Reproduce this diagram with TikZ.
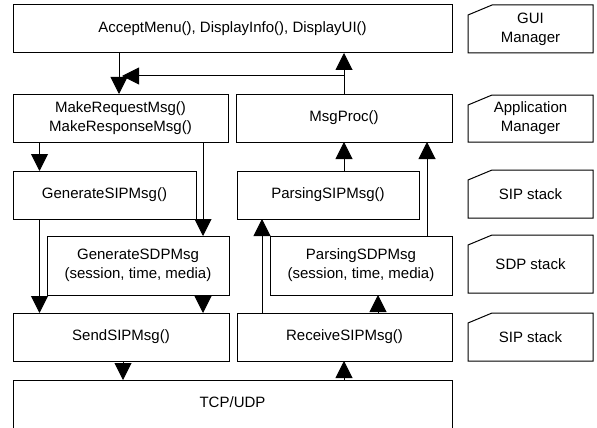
\documentclass[tikz,border=0pt]{standalone}
\usepackage{fontspec}
\setmainfont{Liberation Sans}
\usepackage{tikz}
\usetikzlibrary{arrows.meta}
\usetikzlibrary{calc}

\begin{document}
\begin{tikzpicture}[x=1pt,y=-1pt,
  box/.style={draw,line width=1pt,inner sep=0pt,outer sep=0pt,align=center,font=\fontsize{15}{19}\selectfont},
  tag/.style={inner sep=0pt,outer sep=0pt,align=center,minimum width=125pt,font=\fontsize{15}{19}\selectfont},
  arr/.style={line width=1pt,-{Triangle[width=17pt,length=17pt]}}]
\useasboundingbox (0,0) rectangle (597,428);
% function blocks
\node[box,minimum width=439pt,minimum height=48pt] (acc) at (232.5,29) {AcceptMenu(), DisplayInfo(), DisplayUI()};
\node[box,minimum width=215pt,minimum height=48pt] (mkreq) at (120.5,118) {MakeRequestMsg()\\MakeResponseMsg()};
\node[box,minimum width=216pt,minimum height=48pt] (msgproc) at (344,118) {MsgProc()};
\node[box,minimum width=183pt,minimum height=48pt] (gensip) at (104.5,195) {GenerateSIPMsg()};
\node[box,minimum width=182pt,minimum height=48pt] (parsip) at (328,195) {ParsingSIPMsg()};
\node[box,minimum width=182pt,minimum height=59pt] (gensdp) at (138,265.5) {GenerateSDPMsg\\(session, time, media)};
\node[box,minimum width=182pt,minimum height=59pt] (parsdp) at (361,265.5) {ParsingSDPMsg\\(session, time, media)};
\node[box,minimum width=216pt,minimum height=48pt] (send) at (121,337) {SendSIPMsg()};
\node[box,minimum width=215pt,minimum height=48pt] (recv) at (344.5,337) {ReceiveSIPMsg()};
\node[box,draw=none,minimum width=439pt,minimum height=44pt] (tcp) at (232.5,402) {TCP/UDP};
\draw[line width=1pt] ([yshift=-8pt]tcp.south west) -- (tcp.north west) -- (tcp.north east) -- ([yshift=-8pt]tcp.south east);
% layer tags
\node[tag,minimum height=48pt] (gui) at (530.5,29) {GUI\\Manager};
\node[tag,minimum height=47pt] (app) at (530.5,118.5) {Application\\Manager};
\node[tag,minimum height=48pt] (sipa) at (530.5,194) {SIP stack};
\node[tag,minimum height=58pt] (sdp) at (530.5,264) {SDP stack};
\node[tag,minimum height=48pt] (sipb) at (530.5,337) {SIP stack};
\foreach \n in {gui,app,sipa,sdp,sipb}
  \draw[line width=1pt] (\n.south west) -- ([yshift=-10pt]\n.north west)
    -- ([xshift=24pt]\n.north west) -- (\n.north east) -- (\n.south east) -- cycle;
% arrow columns
\coordinate (xa) at (39.5,0);
\coordinate (xb) at (119,0);
\coordinate (xc) at (123,0);
\coordinate (xd) at (203,0);
\coordinate (xe) at (262,0);
\coordinate (xf) at (344,0);
\coordinate (xg) at (378,0);
\coordinate (xh) at (427,0);
\coordinate (branch) at (344,76);
% connectors
\draw[arr] (acc.south -| xb) -- (mkreq.north -| xb);
\draw[arr] (msgproc.north -| xf) -- (acc.south -| xf);
\draw[arr] (branch) -- ([xshift=3pt]branch -| xb);
\draw[arr] (mkreq.south -| xa) -- (gensip.north -| xa);
\draw[arr] (mkreq.south -| xd) -- (gensdp.north -| xd);
\draw[arr] (parsip.north -| xf) -- (msgproc.south -| xf);
\draw[arr] (parsdp.north -| xh) -- (msgproc.south -| xh);
\draw[arr] (gensip.south -| xa) -- (send.north -| xa);
\draw[arr] (gensdp.south -| xd) -- (send.north -| xd);
\draw[arr] (recv.north -| xe) -- (parsip.south -| xe);
\draw[arr] (recv.north -| xg) -- (parsdp.south -| xg);
\draw[arr] (send.south -| xc) -- (tcp.north -| xc);
\draw[arr] (tcp.north -| xf) -- (recv.south -| xf);
\end{tikzpicture}
\end{document}
